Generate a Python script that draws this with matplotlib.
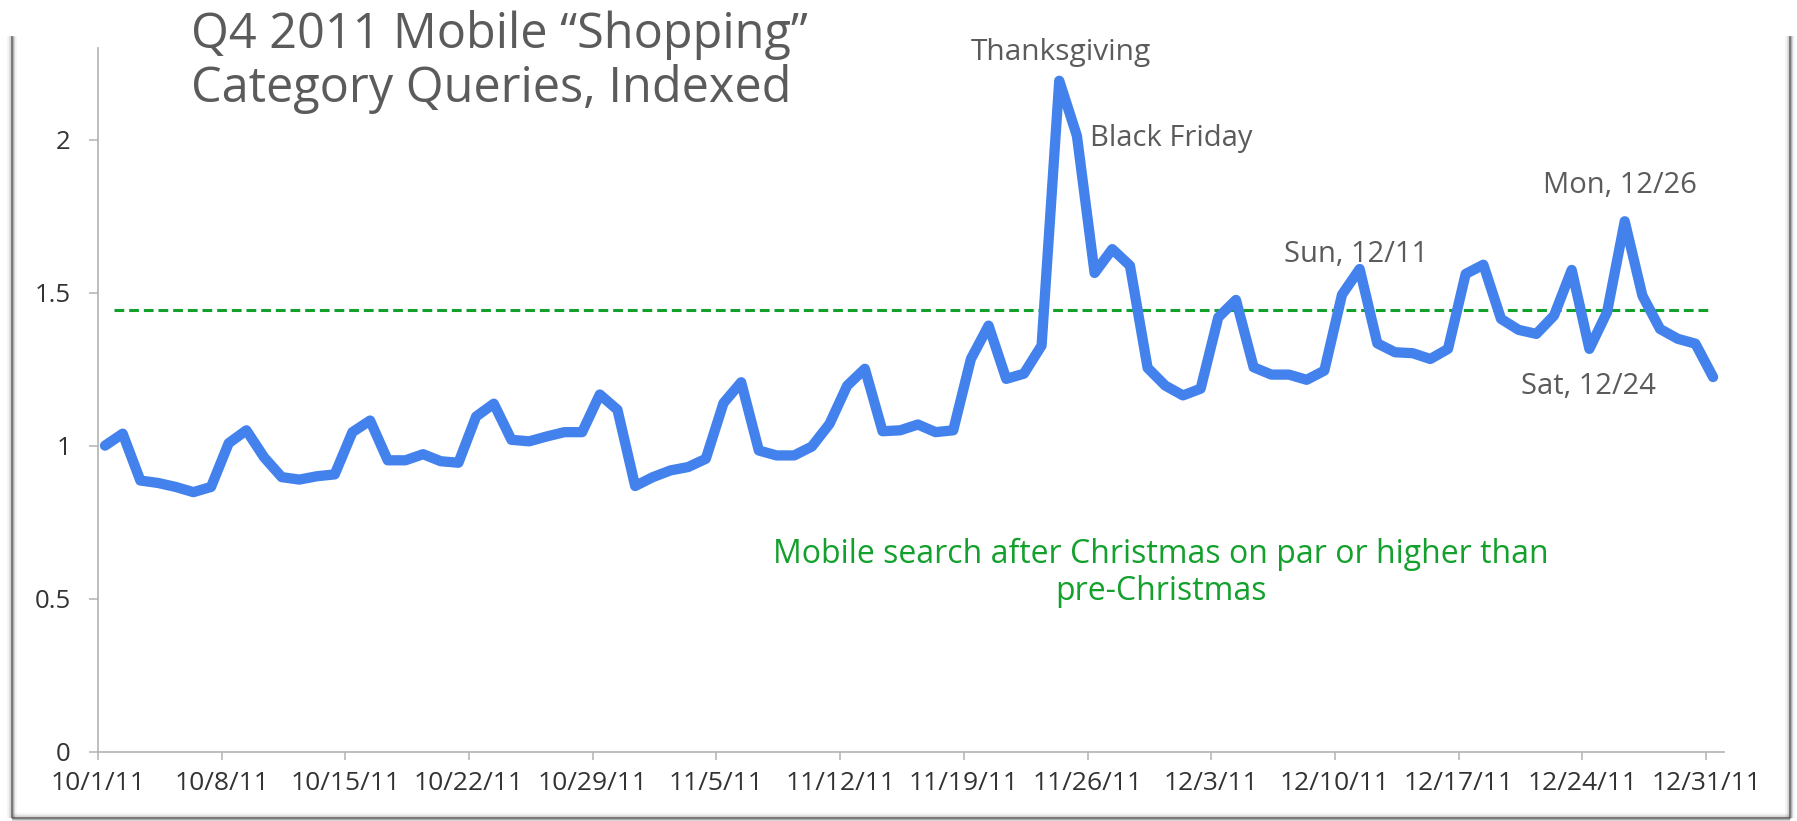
import numpy as np
import matplotlib.pyplot as plt
from matplotlib.lines import Line2D

plt.rcParams['font.family'] = ['Open Sans', 'DejaVu Sans']

# daily index of mobile "Shopping" queries, 10/1/11 .. 12/31/11 (10/1 = 1)
index_values = [
    1.000, 1.039, 0.886, 0.878, 0.865, 0.848, 0.865, 1.008, 1.050, 0.962,
    0.897, 0.889, 0.900, 0.906, 1.044, 1.082, 0.952, 0.952, 0.972, 0.949,
    0.944, 1.095, 1.137, 1.019, 1.014, 1.030, 1.044, 1.044, 1.167, 1.117,
    0.868, 0.897, 0.919, 0.930, 0.957, 1.139, 1.207, 0.984, 0.968, 0.968,
    0.997, 1.071, 1.196, 1.251, 1.047, 1.050, 1.069, 1.044, 1.050, 1.283,
    1.392, 1.218, 1.235, 1.327, 2.192, 2.012, 1.564, 1.642, 1.588, 1.254,
    1.196, 1.164, 1.186, 1.419, 1.476, 1.256, 1.232, 1.232, 1.215, 1.245,
    1.493, 1.577, 1.334, 1.305, 1.302, 1.283, 1.316, 1.561, 1.591, 1.414,
    1.378, 1.365, 1.425, 1.574, 1.316, 1.436, 1.733, 1.490, 1.381, 1.349,
    1.333, 1.224,
]
pre_christmas_level = 1.443

week_labels = ['10/1/11', '10/8/11', '10/15/11', '10/22/11', '10/29/11',
               '11/5/11', '11/12/11', '11/19/11', '11/26/11', '12/3/11',
               '12/10/11', '12/17/11', '12/24/11', '12/31/11']
y_ticks = [0, 0.5, 1, 1.5, 2]
y_labels = ['0', '0.5', '1', '1.5', '2']

BLUE = '#4382ec'
GREEN = '#14a02c'
GREY = '#5b5b5b'

fig = plt.figure(figsize=(17.97, 8.21), dpi=100)
ax = fig.add_axes([0.0545, 0.0844, 0.9047, 0.8575])

days = np.arange(len(index_values)) + 0.4
ax.plot(days, index_values, color=BLUE, lw=7.4, solid_joinstyle='round',
        solid_capstyle='round', zorder=3)
ax.axhline(pre_christmas_level, xmin=0.01, xmax=0.991, color=GREEN,
           lw=2.2, dashes=(3.2, 1.6), zorder=2)

ax.set_xlim(0, 92)
ax.set_ylim(0, 2.3)
ax.set_xticks(np.arange(len(week_labels)) * 7)
ax.set_xticklabels(week_labels)
ax.set_yticks(y_ticks)
ax.set_yticklabels(y_labels)

for side in ['top', 'right']:
    ax.spines[side].set_visible(False)
for side in ['left', 'bottom']:
    ax.spines[side].set_color('#b3b3b3')
    ax.spines[side].set_linewidth(1.2)
ax.tick_params(axis='x', direction='out', length=6, width=1.1, color='#b3b3b3',
               labelsize=19, labelcolor='#333333', pad=8)
ax.tick_params(axis='y', direction='out', length=6.5, width=1.1, color='#b3b3b3',
               labelsize=18.5, labelcolor='#333333', pad=13)

# event labels
ax.text(54.52, 2.259, 'Thanksgiving', ha='center', va='baseline', fontsize=21.5, color=GREY)
ax.text(56.13, 1.979, 'Black Friday', ha='left', va='baseline', fontsize=21, color=GREY)
ax.text(71.19, 1.600, 'Sun, 12/11', ha='center', va='baseline', fontsize=21, color=GREY)
ax.text(86.13, 1.824, 'Mon, 12/26', ha='center', va='baseline', fontsize=21, color=GREY)
ax.text(84.32, 1.169, 'Sat, 12/24', ha='center', va='baseline', fontsize=21, color=GREY)
ax.text(60.17, 0.495, 'Mobile search after Christmas on par or higher than\npre-Christmas',
        ha='center', va='baseline', fontsize=23, color=GREEN, linespacing=1.15)

fig.text(0.1063, 0.988, 'Q4 2011 Mobile \u201cShopping\u201d\nCategory Queries, Indexed',
         ha='left', va='top', fontsize=35, color=GREY, linespacing=1.12)

# card shadow on left, right and bottom edges
W, H = 1797.0, 821.0
def edge(xs, ys):
    for lw, a in [(7, 0.06), (4.5, 0.12), (2.5, 0.35), (1.4, 0.6)]:
        fig.add_artist(Line2D([x / W for x in xs], [1 - y / H for y in ys],
                              transform=fig.transFigure, color='#555555',
                              lw=lw, alpha=a, solid_capstyle='butt'))
edge([11.5, 11.5], [36, 818])
edge([11.5, 1790], [818, 818])
edge([1790, 1790], [36, 818])

fig.savefig('out.png', dpi=100, facecolor='white')
